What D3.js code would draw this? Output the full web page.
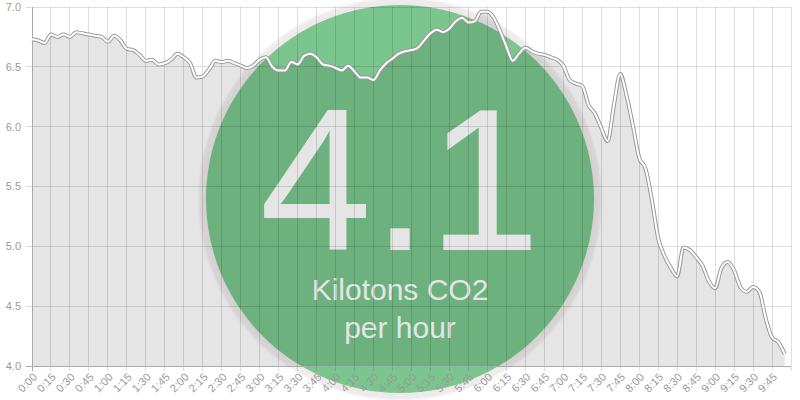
<!DOCTYPE html>
<html>
<head>
<meta charset="utf-8">
<script src="https://cdn.jsdelivr.net/npm/d3@7"></script>
<style>
  html, body { margin: 0; padding: 0; background: #fff; }
  svg { display: block; font-family: "Liberation Sans", Arial, sans-serif; }
</style>
</head>
<body>
<svg id="chart"></svg>
<script>
// emissions readings, one every 5 minutes from 0:00
const stepMinutes = 5;
const emissions = [
  6.73, 6.72, 6.70, 6.77, 6.75, 6.77, 6.75, 6.79, 6.78, 6.77,
  6.76, 6.75, 6.71, 6.76, 6.72, 6.65, 6.64, 6.60, 6.55, 6.56,
  6.52, 6.53, 6.56, 6.61, 6.58, 6.53, 6.41, 6.42, 6.48, 6.55,
  6.54, 6.55, 6.53, 6.51, 6.49, 6.51, 6.56, 6.58, 6.50, 6.47,
  6.47, 6.54, 6.52, 6.59, 6.61, 6.58, 6.52, 6.51, 6.49, 6.47,
  6.51, 6.46, 6.41, 6.41, 6.39, 6.47, 6.53, 6.57, 6.61, 6.63,
  6.64, 6.66, 6.72, 6.78, 6.81, 6.79, 6.82, 6.88, 6.91, 6.87,
  6.88, 6.96, 6.96, 6.91, 6.80, 6.67, 6.55, 6.61, 6.66, 6.63,
  6.61, 6.60, 6.58, 6.56, 6.51, 6.39, 6.36, 6.34, 6.18, 6.11,
  5.99, 5.88, 6.18, 6.44, 6.26, 6.01, 5.74, 5.65, 5.39, 5.07,
  4.92, 4.82, 4.75, 4.99, 4.97, 4.91, 4.84, 4.71, 4.65, 4.82,
  4.87, 4.80, 4.66, 4.62, 4.66, 4.62, 4.40, 4.24, 4.20, 4.10
];

const timeLabels = [
  "0:00", "0:15", "0:30", "0:45", "1:00", "1:15", "1:30", "1:45",
  "2:00", "2:15", "2:30", "2:45", "3:00", "3:15", "3:30", "3:45",
  "4:00", "4:15", "4:30", "4:45", "5:00", "5:15", "5:30", "5:45",
  "6:00", "6:15", "6:30", "6:45", "7:00", "7:15", "7:30", "7:45",
  "8:00", "8:15", "8:30", "8:45", "9:00", "9:15", "9:30", "9:45"
];
const yTicks = [4.0, 4.5, 5.0, 5.5, 6.0, 6.5, 7.0];

const currentValue = "4.1";
const unitLines = ["Kilotons CO2", "per hour"];

const W = 800, H = 400;
const margin = { top: 7, right: 9, bottom: 34, left: 32 };
const w = W - margin.left - margin.right;
const h = H - margin.top - margin.bottom;

const svg = d3.select('#chart').attr('width', W).attr('height', H);

const toMinutes = s => { const p = s.split(':'); return +p[0] * 60 + +p[1]; };

const x = d3.scaleLinear().domain([0, 600]).range([0, w]);
const y = d3.scaleLinear().domain([4, 7]).range([h, 0]);

const points = emissions.map((v, i) => ({ t: i * stepMinutes, v }));

// big badge sits underneath the chart layers
const badge = svg.append('g');
const cx = 400, cy = 199, r = 194;

const grad = svg.append('defs').append('radialGradient')
  .attr('id', 'halo')
  .attr('gradientUnits', 'userSpaceOnUse')
  .attr('cx', cx).attr('cy', cy).attr('r', r + 10);
grad.append('stop').attr('offset', (r / (r + 10)).toFixed(3)).attr('stop-color', '#eee8e8');
grad.append('stop').attr('offset', ((r + 6) / (r + 10)).toFixed(3)).attr('stop-color', '#f1eded');
grad.append('stop').attr('offset', '1').attr('stop-color', '#fff').attr('stop-opacity', 0);

badge.append('circle')
  .attr('cx', cx).attr('cy', cy).attr('r', r + 10)
  .attr('fill', 'url(#halo)');
badge.append('circle')
  .attr('cx', cx).attr('cy', cy).attr('r', r)
  .attr('fill', '#7ac68e');
badge.append('text')
  .attr('x', cx).attr('y', 250)
  .attr('text-anchor', 'middle')
  .attr('fill', '#fff')
  .style('font-size', '202px')
  .text(currentValue);
badge.selectAll('.unit')
  .data(unitLines)
  .enter().append('text')
  .attr('class', 'unit')
  .attr('x', cx)
  .attr('y', (d, i) => 300 + i * 38)
  .attr('text-anchor', 'middle')
  .attr('fill', '#fff')
  .style('font-size', '30px')
  .text(d => d);

const g = svg.append('g')
  .attr('transform', `translate(${margin.left},${margin.top})`);

const area = d3.area()
  .x(d => x(d.t))
  .y0(h)
  .y1(d => y(d.v))
  .curve(d3.curveMonotoneX);

const line = d3.line()
  .x(d => x(d.t))
  .y(d => y(d.v))
  .curve(d3.curveMonotoneX);

g.append('path')
  .datum(points)
  .attr('d', area)
  .attr('fill', 'rgba(0,0,0,0.1)');

// grid
const gridTimes = timeLabels.map(toMinutes).concat([600]);
g.selectAll('.vgrid')
  .data(gridTimes)
  .enter().append('line')
  .attr('class', 'vgrid')
  .attr('x1', d => x(d)).attr('x2', d => x(d))
  .attr('y1', 0).attr('y2', h + 5)
  .attr('stroke', 'rgba(0,0,0,0.13)')
  .attr('shape-rendering', 'crispEdges');

g.selectAll('.hgrid')
  .data(yTicks)
  .enter().append('line')
  .attr('class', 'hgrid')
  .attr('x1', -6).attr('x2', w)
  .attr('y1', d => y(d)).attr('y2', d => y(d))
  .attr('stroke', 'rgba(0,0,0,0.13)')
  .attr('shape-rendering', 'crispEdges');

// axis lines
g.append('line')
  .attr('x1', 0).attr('x2', 0).attr('y1', 0).attr('y2', h + 5)
  .attr('stroke', '#aaa').attr('shape-rendering', 'crispEdges');
g.append('line')
  .attr('x1', -6).attr('x2', w).attr('y1', h).attr('y2', h)
  .attr('stroke', '#aaa').attr('shape-rendering', 'crispEdges');

// y labels
g.selectAll('.ylab')
  .data(yTicks)
  .enter().append('text')
  .attr('class', 'ylab')
  .attr('x', -11)
  .attr('y', d => y(d))
  .attr('dy', '0.35em')
  .attr('text-anchor', 'end')
  .attr('fill', '#999')
  .style('font-size', '11px')
  .text(d => d.toFixed(1));

// x labels
g.selectAll('.xlab')
  .data(timeLabels)
  .enter().append('text')
  .attr('class', 'xlab')
  .attr('transform', d => `translate(${x(toMinutes(d)) + 3},${h + 9}) rotate(-45)`)
  .attr('dy', '0.35em')
  .attr('text-anchor', 'end')
  .attr('fill', '#999')
  .style('font-size', '11px')
  .text(d => d);

// line drawn as a white stroke with grey outline
g.append('path')
  .datum(points)
  .attr('d', line)
  .attr('fill', 'none')
  .attr('stroke', '#9a9a9a')
  .attr('stroke-width', 4)
  .attr('stroke-linejoin', 'round');
g.append('path')
  .datum(points)
  .attr('d', line)
  .attr('fill', 'none')
  .attr('stroke', '#fff')
  .attr('stroke-width', 2)
  .attr('stroke-linejoin', 'round');
</script>
</body>
</html>
